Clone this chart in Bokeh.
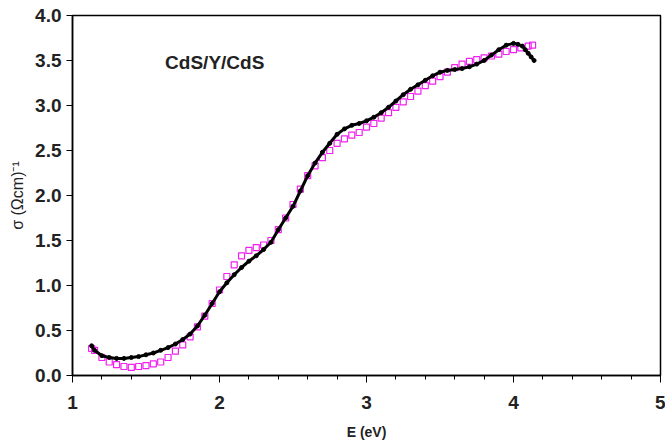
from bokeh.plotting import figure
from bokeh.models import SingleIntervalTicker, Label, NumeralTickFormatter
from bokeh.embed import file_html
from bokeh.resources import INLINE

# Fit (black)
fit_E = [1.13, 1.15, 1.20, 1.25, 1.30, 1.35, 1.40, 1.45, 1.50, 1.55, 1.60, 1.65, 1.70, 1.75,
         1.80, 1.85, 1.90, 1.95, 2.00, 2.05, 2.10, 2.15, 2.20, 2.25, 2.30, 2.35, 2.40, 2.45,
         2.50, 2.55, 2.60, 2.65, 2.70, 2.75, 2.80, 2.85, 2.90, 2.95, 3.00, 3.05, 3.10, 3.15,
         3.20, 3.25, 3.30, 3.35, 3.40, 3.45, 3.50, 3.55, 3.60, 3.65, 3.70, 3.75, 3.80, 3.85,
         3.90, 3.95, 4.00, 4.03, 4.06, 4.08, 4.10, 4.12, 4.14]
fit_sigma = [0.33, 0.28, 0.22, 0.20, 0.19, 0.19, 0.20, 0.21, 0.23, 0.25, 0.28, 0.31, 0.35, 0.40,
             0.46, 0.55, 0.67, 0.80, 0.93, 1.03, 1.12, 1.20, 1.27, 1.33, 1.40, 1.48, 1.62, 1.75,
             1.88, 2.05, 2.22, 2.36, 2.48, 2.58, 2.68, 2.74, 2.78, 2.80, 2.83, 2.87, 2.92, 2.98,
             3.05, 3.12, 3.18, 3.23, 3.28, 3.33, 3.37, 3.39, 3.40, 3.41, 3.43, 3.46, 3.50, 3.56,
             3.62, 3.67, 3.69, 3.68, 3.66, 3.62, 3.58, 3.54, 3.50]

# Experimental (magenta)
exp_E = [1.13, 1.15, 1.20, 1.25, 1.30, 1.35, 1.40, 1.45, 1.50, 1.55, 1.60, 1.65, 1.70, 1.75,
         1.80, 1.85, 1.90, 1.95, 2.00, 2.05, 2.10, 2.15, 2.20, 2.25, 2.30, 2.35, 2.40, 2.45,
         2.50, 2.55, 2.60, 2.65, 2.70, 2.75, 2.80, 2.85, 2.90, 2.95, 3.00, 3.05, 3.10, 3.15,
         3.20, 3.25, 3.30, 3.35, 3.40, 3.45, 3.50, 3.55, 3.60, 3.65, 3.70, 3.75, 3.80, 3.85,
         3.90, 3.95, 4.00, 4.05, 4.10, 4.13]
exp_sigma = [0.30, 0.28, 0.20, 0.15, 0.12, 0.10, 0.09, 0.10, 0.11, 0.13, 0.15, 0.20, 0.27, 0.34,
             0.43, 0.54, 0.66, 0.80, 0.95, 1.10, 1.23, 1.33, 1.39, 1.42, 1.45, 1.50, 1.62, 1.75,
             1.90, 2.07, 2.22, 2.33, 2.42, 2.50, 2.58, 2.63, 2.67, 2.70, 2.76, 2.80, 2.86, 2.92,
             2.98, 3.04, 3.10, 3.16, 3.22, 3.27, 3.32, 3.37, 3.42, 3.46, 3.49, 3.51, 3.53, 3.55,
             3.57, 3.60, 3.62, 3.64, 3.66, 3.67]

title_text = "CdS/Y/CdS"

p = figure(width=665, height=446, x_range=(1, 5), y_range=(0, 4),
           output_backend="svg", toolbar_location=None,
           min_border_left=72, min_border_right=5, min_border_top=15, min_border_bottom=71)
p.background_fill_color = "white"
p.border_fill_color = "white"
p.outline_line_color = "black"
p.outline_line_width = 1.5
p.xgrid.visible = False
p.ygrid.visible = False

p.scatter(exp_E, exp_sigma, marker="square", size=6, fill_color=None,
          line_color="#f020f0", line_width=1.2)
p.line(fit_E, fit_sigma, line_color="black", line_width=3)
p.scatter(fit_E, fit_sigma, marker="circle", size=4, fill_color="black", line_color="black")

p.add_layout(Label(x=1.63, y=3.48, text=title_text, text_font="Liberation Sans",
                   text_font_style="bold", text_font_size="19px", text_color="#222222",
                   text_baseline="middle", text_align="left"))

xa = p.xaxis[0]
xa.ticker = SingleIntervalTicker(interval=1, num_minor_ticks=5)
xa.axis_label = "E (eV)"
xa.axis_label_text_font = "Liberation Sans"
xa.axis_label_text_font_style = "bold"
xa.axis_label_text_font_size = "14px"
xa.axis_label_text_color = "#222222"
xa.axis_label_standoff = 12
xa.major_label_text_font = "Liberation Sans"
xa.major_label_text_font_style = "bold"
xa.major_label_text_font_size = "19px"
xa.major_label_text_color = "#222222"
xa.major_label_standoff = 13
xa.major_tick_in = 0
xa.major_tick_out = 7
xa.minor_tick_in = 0
xa.minor_tick_out = 4
xa.axis_line_color = "black"
xa.axis_line_width = 1.5

ya = p.yaxis[0]
ya.ticker = SingleIntervalTicker(interval=0.5, num_minor_ticks=0)
ya.formatter = NumeralTickFormatter(format="0.0")
ya.axis_label = "σ (Ωcm)⁻¹"
ya.axis_label_text_font = "Liberation Sans"
ya.axis_label_text_font_style = "normal"
ya.axis_label_text_font_size = "16px"
ya.axis_label_text_color = "#222222"
ya.axis_label_standoff = 6
ya.major_label_text_font = "Liberation Sans"
ya.major_label_text_font_style = "bold"
ya.major_label_text_font_size = "19px"
ya.major_label_text_color = "#222222"
ya.major_label_standoff = 5
ya.major_tick_in = 0
ya.major_tick_out = 6
ya.minor_tick_in = 0
ya.minor_tick_out = 0
ya.axis_line_color = "black"
ya.axis_line_width = 1.5

open("out.html", "w").write(file_html(p, INLINE))
